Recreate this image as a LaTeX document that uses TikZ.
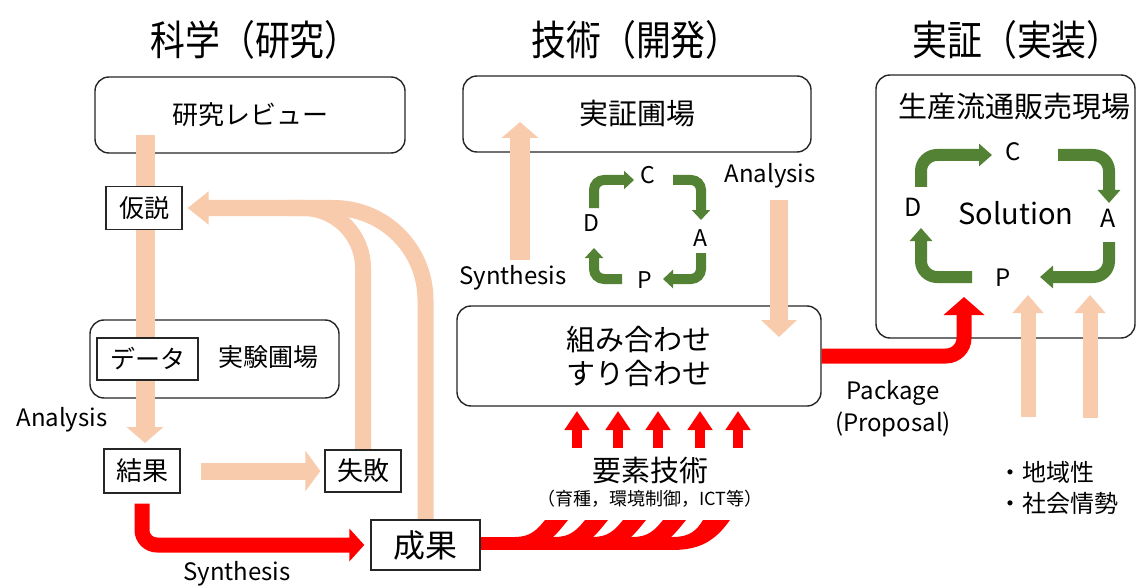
\documentclass[tikz,border=0pt]{standalone}
\usepackage{fontspec}
\newfontfamily\jp{Noto Sans CJK JP}
\newfontfamily\jpn[FakeStretch=0.85]{Noto Sans CJK JP}
\usetikzlibrary{arrows.meta}
\definecolor{peach}{HTML}{F8CBAD}
\definecolor{pgreen}{HTML}{548235}
\definecolor{pred}{HTML}{FF0000}
\newcommand\myfs[1]{\fontsize{#1}{#1}\selectfont}
\pgfdeclarelayer{back}
\pgfdeclarelayer{mid}
\pgfsetlayers{back,mid,main}
\begin{document}
\begin{tikzpicture}[x=1pt,y=-1pt,
  rbox/.style={draw=black!85,line width=1.4pt,rounded corners=14pt,fill=white,inner sep=0pt},
  sbox/.style={draw=black!85,line width=1.3pt,fill=white,inner sep=0pt},
  lbl/.style={inner sep=0pt,font=\jp\myfs{#1}},
  hdr/.style={inner sep=0pt,font=\jpn\myfs{41}},
  pa/.style args={#1/#2/#3}{draw=peach,line width=#1pt,-{Triangle[width=#2pt,length=#3pt]}},
  ra/.style args={#1/#2/#3}{draw=pred,line width=#1pt,-{Triangle[width=#2pt,length=#3pt]}},
  ga/.style args={#1/#2/#3}{draw=pgreen,line width=#1pt,-{Triangle[width=#2pt,length=#3pt]}},
]
\useasboundingbox (0,0) rectangle (1137,588);

% headers
\node[hdr] (h1) at (255,40) {科学（研究）};
\node[hdr] (h2) at (636,40) {技術（開発）};
\node[hdr] (h3) at (1017,40) {実証（実装）};

% big boxes
\begin{pgfonlayer}{back}
\fill[white] (0,0) rectangle (1137,588);
\node[rbox,minimum width=310pt,minimum height=76pt,font=\jp\myfs{26}] (review) at (250,115) {研究レビュー};
\node[rbox,minimum width=249pt,minimum height=78pt] (jikken) at (214.5,359) {};
\node[rbox,minimum width=348pt,minimum height=76pt,font=\jp\myfs{29}] (jissho) at (637,114) {実証圃場};
\node[rbox,minimum width=364pt,minimum height=100pt,align=center,font=\jp\fontsize{29}{34}\selectfont] (kumi) at (639,356) {組み合わせ\\すり合わせ};
\node[rbox,minimum width=259pt,minimum height=263pt] (genba) at (1005.5,206.5) {};
\end{pgfonlayer}
\node[lbl=25] (jikkent) at (268,357) {実験圃場};
\node[lbl=29] (genbat) at (1014,107) {生産流通販売現場};

% small boxes
\node[sbox,minimum width=76pt,minimum height=43pt,font=\jp\myfs{25}] (kasetsu) at (144,208) {仮説};
\node[sbox,minimum width=101pt,minimum height=42pt,font=\jp\myfs{25}] (data) at (147.5,359) {データ};
\node[sbox,minimum width=76pt,minimum height=44pt,font=\jp\myfs{26}] (kekka) at (142,471) {結果};
\node[sbox,minimum width=76pt,minimum height=42pt,font=\jp\myfs{26}] (shippai) at (363,471) {失敗};
\node[sbox,minimum width=109pt,minimum height=50pt,font=\jp\myfs{32}] (seika) at (425.5,545) {成果};

% labels
\node[lbl=24] (an1) at (62,420) {Analysis};
\node[lbl=24] (sy1) at (237,574) {Synthesis};
\node[lbl=24] (sy2) at (513,278) {Synthesis};
\node[lbl=24] (an2) at (770,176) {Analysis};
\node[lbl=29] (yoso) at (650,470) {要素技術};
\node[lbl=18] (yoso2) at (650,499) {（育種，環境制御，ICT等）};
\node[lbl=24,align=center,font=\jp\fontsize{24}{32}\selectfont] (pkg) at (893,409) {Package\\(Proposal)};
\node[lbl=24,anchor=west] (b1) at (998,472) {・地域性};
\node[lbl=24,anchor=west] (b2) at (998,503) {・社会情勢};

% small PDCA letters
\node[lbl=23] (sC) at (648,175) {C};
\node[lbl=23] (sD) at (591,223) {D};
\node[lbl=23] (sA) at (700,238) {A};
\node[lbl=23] (sP) at (645,280) {P};
% big PDCA letters
\node[lbl=24] (bC) at (1013,152) {C};
\node[lbl=25] (bD) at (913,207) {D};
\node[lbl=25] (bA) at (1108,218) {A};
\node[lbl=24] (bP) at (1003,278) {P};
\node[lbl=29] (sol) at (1016,213) {Solution};

% coordinates for free ends
\coordinate (m1) at (145,135);
\coordinate (m2) at (145,443);
\coordinate (loopj) at (290,208);
\coordinate (u1) at (520,260);
\coordinate (u2) at (520,122);
\coordinate (d1) at (779,200);
\coordinate (d2) at (779,337);
\coordinate (ptip) at (964,297);
\coordinate (r1a) at (1028,417);
\coordinate (r1b) at (1028,295);
\coordinate (r2a) at (1090,418);
\coordinate (r2b) at (1090,295);
\coordinate (fanend) at (672,550);

\begin{pgfonlayer}{mid}
% peach arrows
\draw[pa=19/36/16] (m1) -- (m2);
\draw[pa=17/40/15] ([xshift=20pt]kekka.east) -- ([xshift=-4pt]shippai.west);
\draw[draw=peach,line width=16pt,rounded corners=92pt] (seika.north) -- (seika.north |- kasetsu.east) -- (loopj);
\draw[pa=16/32/21,rounded corners=60pt] (shippai.north) -- (shippai.north |- kasetsu.east) -- ([xshift=5pt]kasetsu.east);
\draw[pa=20/36/16] (u1) -- (u2);
\draw[pa=18/35/17] (d1) -- (d2);
\draw[pa=15/30/18] (r1a) -- (r1b);
\draw[pa=15/30/18] (r2a) -- (r2b);

% red arrows
\draw[ra=15/32/15,rounded corners=15pt] ([yshift=-10pt]kekka.south) |- ([xshift=-6pt]seika.west);
\draw[ra=15/40/18,rounded corners=18pt] (kumi.east) -| (ptip);
\foreach \x in {577,618,658,700,738}{
  \draw[ra=10/24/19] (\x,448) -- (\x,411);
}
% red fan from seika
\fill[pred] (seika.east |- 0,537) rectangle (fanend);
\foreach \a in {545,585,623,663}{
  \fill[pred] (\a-30,537) .. controls (\a-15,537) and (\a-8,530) .. (\a,520)
     -- (\a+23,520) .. controls (\a+15,530) and (\a+10,536) .. (\a+2,542) -- (\a-30,542) -- cycle;
}
\fill[pred] (673,537) .. controls (690,537) and (697,530) .. (703,520)
   -- (730,520) .. controls (715,541) and (700,550) .. (fanend) -- (665,537) -- cycle;

% small green cycle
\draw[ga=10/18/10,rounded corners=10pt] (594,208) |- (634,180);
\draw[ga=10/18/10,rounded corners=10pt] (673,180) -| (701,220);
\draw[ga=10/18/10,rounded corners=10pt] (701,253) |- (663,279);
\draw[ga=10/18/10,rounded corners=10pt] (622,279) -| (594,248);
% big green cycle
\draw[ga=12/22/13,rounded corners=16pt] (921,187) |- (992,155);
\draw[ga=12/22/13,rounded corners=16pt] (1058,155) -| (1109,203);
\draw[ga=12/22/13,rounded corners=16pt] (1109,242) |- (1040,277);
\draw[ga=12/22/13,rounded corners=16pt] (972,277) -| (921,228);
\end{pgfonlayer}
\end{tikzpicture}
\end{document}
